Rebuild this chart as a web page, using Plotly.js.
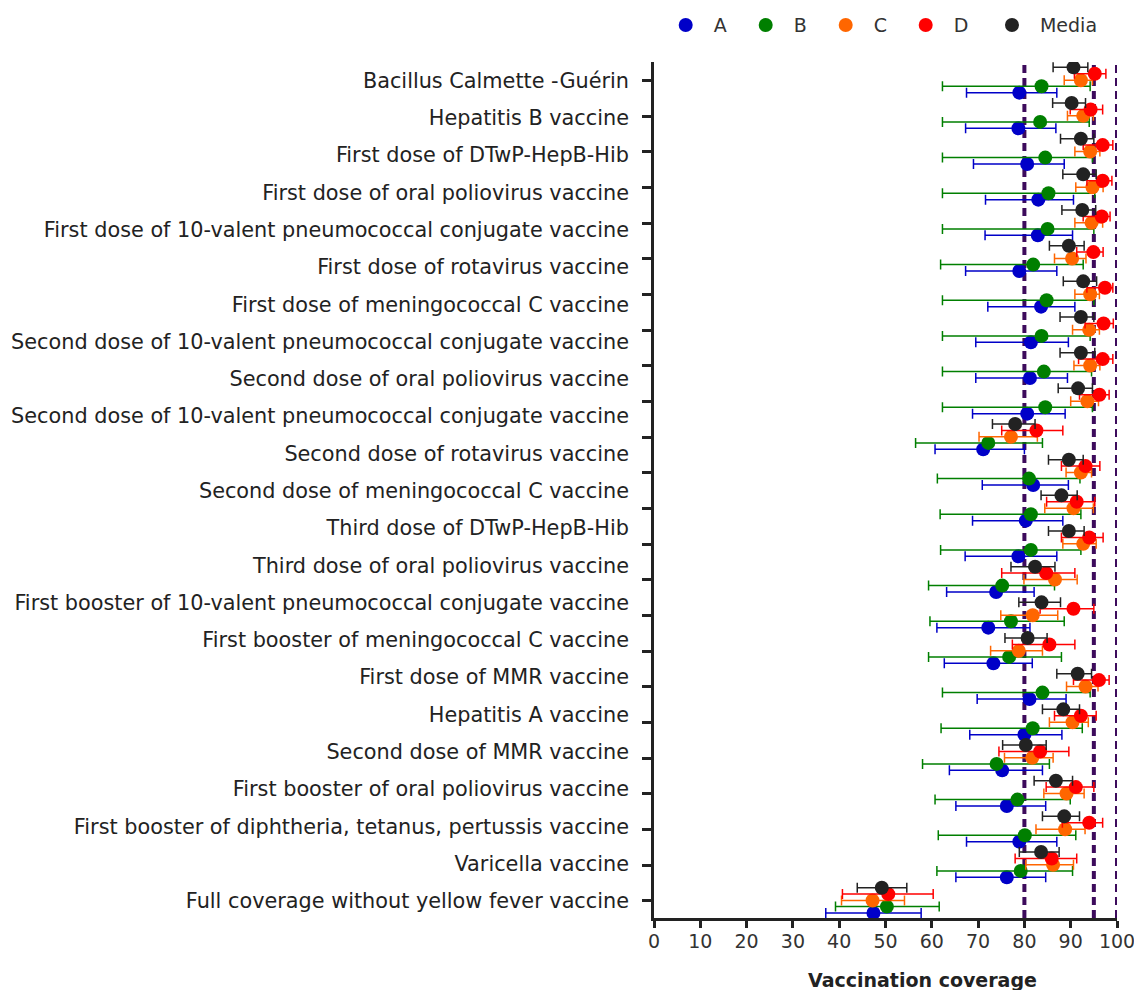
<!DOCTYPE html>
<html><head><meta charset="utf-8">
<script src="https://cdn.plot.ly/plotly-3.0.1.min.js"></script>
<style>html,body{margin:0;padding:0;background:#fff}</style>
</head><body><div id="chart" style="width:1134px;height:990px"></div>
<script>
const categories = [
  'Bacillus Calmette -Guérin',
  'Hepatitis B vaccine',
  'First dose of DTwP-HepB-Hib',
  'First dose of oral poliovirus vaccine',
  'First dose of 10-valent pneumococcal conjugate vaccine',
  'First dose of rotavirus vaccine',
  'First dose of meningococcal C vaccine',
  'Second dose of 10-valent pneumococcal conjugate vaccine',
  'Second dose of oral poliovirus vaccine',
  'Second dose of 10-valent pneumococcal conjugate vaccine',
  'Second dose of rotavirus vaccine',
  'Second dose of meningococcal C vaccine',
  'Third dose of DTwP-HepB-Hib',
  'Third dose of oral poliovirus vaccine',
  'First booster of 10-valent pneumococcal conjugate vaccine',
  'First booster of meningococcal C vaccine',
  'First dose of MMR vaccine',
  'Hepatitis A vaccine',
  'Second dose of MMR vaccine',
  'First booster of oral poliovirus vaccine',
  'First booster of diphtheria, tetanus, pertussis vaccine',
  'Varicella vaccine',
  'Full coverage without yellow fever vaccine'
];
const seriesNames = ['A', 'B', 'C', 'D', 'Media'];
const seriesColors = ['#0000c8', '#007f00', '#ff6600', '#ff0000', '#222222'];

const meanA = [78.9,78.7,80.6,83.0,82.9,78.9,83.6,81.4,81.2,80.6,71.1,81.9,80.3,78.7,73.9,72.2,73.3,81.1,80.0,75.2,76.2,78.9,76.2,47.4];
const lowA  = [67.5,67.3,69.0,71.6,71.5,67.3,72.1,69.5,69.5,68.8,60.7,70.9,68.8,67.2,63.2,61.1,62.7,69.8,68.2,63.8,65.2,67.5,65.2,37.1];
const highA = [87.0,86.8,88.6,90.6,90.4,87.0,90.9,89.5,89.3,88.8,80.0,89.5,88.3,87.0,82.1,81.2,81.7,89.0,88.1,83.9,84.6,87.0,84.6,57.7];

const meanB = [83.7,83.4,84.5,85.2,85.0,81.9,84.8,83.7,84.2,84.5,72.2,81.0,81.4,81.4,75.2,77.1,76.7,83.9,81.8,74.0,78.5,80.1,79.2,50.3];
const lowB  = [62.3,62.3,62.3,62.3,62.3,61.9,62.3,62.3,62.3,62.3,56.5,61.2,61.8,61.9,59.3,59.6,59.3,62.3,62.0,58.0,60.7,61.4,61.1,39.2];
const highB = [94.2,94.0,94.7,95.2,95.0,92.7,95.0,94.2,94.5,94.7,83.9,92.0,92.2,92.2,86.5,88.6,88.0,94.2,92.5,85.4,89.9,91.1,90.4,61.6];

const meanC = [92.2,92.7,94.2,94.7,94.5,90.3,94.2,94.0,94.2,93.6,77.1,92.2,90.6,92.7,86.6,81.8,78.8,93.2,90.4,81.7,89.1,88.8,86.2,47.2];
const lowC  = [88.6,89.3,90.9,91.1,90.9,86.5,90.9,90.4,90.7,90.0,70.2,89.0,84.4,88.3,79.9,74.9,72.7,89.1,85.4,75.7,84.2,82.5,80.3,40.5];
const highC = [94.7,94.9,96.3,97.0,96.9,93.3,96.2,96.2,96.3,96.0,82.8,94.5,94.9,95.5,91.4,87.2,83.9,95.9,93.8,86.2,92.9,93.1,90.6,54.1];

const meanD = [95.2,94.3,96.9,96.9,96.7,94.9,97.4,97.1,96.9,96.2,82.6,93.2,91.3,94.0,84.7,90.6,85.4,96.1,92.2,83.4,91.1,94.0,85.9,50.6];
const lowD  = [90.8,89.9,92.7,93.5,92.7,91.3,93.5,93.1,91.7,91.9,75.1,88.0,84.8,88.0,75.1,83.4,77.4,90.6,86.5,74.5,84.7,88.2,78.0,40.7];
const highD = [97.6,96.9,99.1,98.9,98.5,97.0,99.1,99.2,99.1,98.3,88.3,96.3,95.2,97.0,90.9,95.0,90.9,98.3,95.5,89.6,95.0,96.9,91.3,60.3];

const meanMedia = [90.6,90.2,92.2,92.7,92.5,89.6,92.7,92.2,92.2,91.6,78.0,89.6,88.0,89.6,82.3,83.7,80.7,91.5,88.4,80.3,86.8,88.6,83.6,49.2];
const lowMedia  = [86.2,86.1,87.8,88.3,88.1,85.4,88.4,87.7,87.7,87.3,73.1,85.2,83.6,85.2,77.1,78.8,75.8,87.0,83.9,75.3,82.1,83.9,78.9,43.9];
const highMedia = [93.7,93.2,95.0,95.5,95.4,92.9,95.6,95.0,95.2,94.7,82.3,92.7,91.4,92.9,86.6,87.8,84.9,94.5,91.9,84.7,90.4,91.9,87.5,54.6];

const targets = [80, 95, 100];
const xTicks = [0,10,20,30,40,50,60,70,80,90,100];

const means = [meanA, meanB, meanC, meanD, meanMedia];
const lows = [lowA, lowB, lowC, lowD, lowMedia];
const highs = [highA, highB, highC, highD, highMedia];
const nGroups = meanA.length;
const rowOffset = [0.34, 0.16, -0.01, -0.19, -0.37];

const traces = seriesNames.map((name, s) => {
  const m = means[s];
  return {
    type: 'scatter', mode: 'markers', name: name,
    legend: s === seriesNames.length - 1 ? 'legend2' : 'legend',
    x: m,
    y: m.map((_, i) => i + rowOffset[s]),
    marker: {color: seriesColors[s], size: 14},
    error_x: {
      type: 'data', symmetric: false,
      array: m.map((v, i) => highs[s][i] - v),
      arrayminus: m.map((v, i) => v - lows[s][i]),
      color: seriesColors[s], thickness: 1.5, width: 5
    },
    hoverinfo: 'x+name'
  };
});
traces.push({type:'scatter', mode:'markers', x:[], y:[], yaxis:'y2', showlegend:false, hoverinfo:'skip'});

const yRange = [nGroups - 1 + 0.48, -0.52];
const labelPos = categories.map((_, j) => j * (nGroups - 1) / (categories.length - 1));

const shapes = targets.map(t => ({
  type: 'line', xref: 'x', yref: 'paper', x0: t, x1: t, y0: 0, y1: 1,
  line: {color: '#3d0b5c', width: 4, dash: '8px,5px'}, layer: 'below'
}));

const FONT = 'DejaVu Sans, sans-serif';
const legendBase = {
  orientation: 'h', xanchor: 'left', y: 1.043, yanchor: 'middle',
  font: {size: 19, color: '#333', family: FONT}, itemwidth: 46,
  traceorder: 'normal', bgcolor: 'rgba(0,0,0,0)'
};

const layout = {
  width: 1134, height: 990,
  margin: {l: 654, r: 17, t: 62, b: 72, autoexpand: false},
  paper_bgcolor: '#fff', plot_bgcolor: '#fff',
  font: {family: FONT, color: '#222'},
  showlegend: true,
  legend: Object.assign({}, legendBase, {x: 0.008, entrywidth: 19}),
  legend2: Object.assign({}, legendBase, {x: 0.7127}),
  xaxis: {
    range: [0, 100], tickmode: 'array', tickvals: xTicks,
    ticks: 'outside', ticklen: 7, tickwidth: 2.5, tickcolor: '#222',
    showline: true, linewidth: 3, linecolor: '#222', showgrid: false, zeroline: false,
    tickfont: {size: 19, color: '#333', family: FONT}, ticklabelstandoff: -3,
    ticklabeloverflow: 'allow', fixedrange: true
  },
  yaxis: {
    range: yRange, tickmode: 'array',
    tickvals: meanA.map((_, i) => i), ticktext: meanA.map(() => ''),
    ticks: 'outside', ticklen: 9, tickwidth: 2.5, tickcolor: '#222',
    showline: true, linewidth: 3, linecolor: '#222', showgrid: false, zeroline: false
  },
  yaxis2: {
    overlaying: 'y', side: 'left', anchor: 'x', range: yRange,
    tickmode: 'array', tickvals: labelPos, ticktext: categories,
    ticks: '', ticklabelstandoff: 24, showline: false, showgrid: false, zeroline: false,
    tickfont: {size: 20.8, color: '#222', family: FONT}
  },
  shapes: shapes,
  annotations: [{
    text: '<b>Vaccination coverage</b>', xref: 'paper', yref: 'paper',
    x: 0.579, y: -0.072, xanchor: 'center', yanchor: 'middle', showarrow: false,
    font: {size: 19, color: '#222', family: FONT}
  }]
};

Plotly.newPlot('chart', traces, layout, {displayModeBar: false, responsive: false});
</script></body></html>
